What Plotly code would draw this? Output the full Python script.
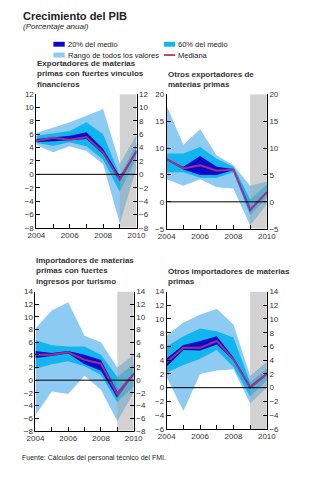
import plotly.graph_objects as go

years = [2004, 2005, 2006, 2007, 2008, 2009, 2010]
forecast_span = [2009, 2010]

titles = [
    "Exportadores de materias<br>primas con fuertes vínculos<br>financieros",
    "Otros exportadores de<br>materias primas",
    "Importadores de materias<br>primas con fuertes<br>ingresos por turismo",
    "Otros importadores de materias<br>primas",
]

# Panel 1
p1_range_hi = [6.2, 7.0, 7.8, 8.8, 9.8, 1.6, 5.9]
p1_range_lo = [4.4, 3.3, 4.2, 3.5, 1.5, -7.4, 1.0]
p1_60_hi = [5.8, 6.1, 6.5, 7.8, 6.0, -0.2, 4.6]
p1_60_lo = [4.7, 4.3, 4.8, 4.2, 2.2, -2.6, 2.4]
p1_20_hi = [5.3, 5.6, 5.8, 6.3, 3.8, -0.3, 3.6]
p1_20_lo = [4.8, 4.9, 5.1, 5.3, 3.0, -1.0, 3.2]
p1_med = [5.0, 5.5, 5.2, 5.6, 3.3, -0.8, 3.5]

# Panel 2
p2_range_hi = [17.8, 10.6, 13.5, 8.6, 6.8, 3.0, 3.8]
p2_range_lo = [4.2, 3.0, 4.2, 2.7, 2.5, -4.4, -0.5]
p2_60_hi = [9.0, 9.0, 10.2, 8.0, 6.5, 0.5, 3.2]
p2_60_lo = [5.5, 5.5, 4.5, 4.5, 5.5, -2.5, 0.8]
p2_20_hi = [7.9, 6.5, 8.5, 6.5, 6.1, -1.2, 1.9]
p2_20_lo = [7.8, 6.0, 5.0, 5.0, 5.9, -1.8, 1.6]
p2_med = [8.0, 6.2, 6.8, 5.8, 6.0, -1.5, 1.8]

# Panel 3
p3_range_hi = [8.2, 11.0, 12.3, 7.0, 6.0, 2.0, 4.0]
p3_range_lo = [-5.5, -1.8, -2.2, 0.7, -1.5, -6.5, -2.0]
p3_60_hi = [6.3, 5.5, 5.3, 5.3, 4.0, 0.5, 2.5]
p3_60_lo = [1.8, 2.5, 3.0, 2.2, 0.8, -3.5, -1.0]
p3_20_hi = [4.6, 4.3, 4.6, 4.0, 3.2, -1.8, 1.2]
p3_20_lo = [3.5, 3.8, 4.2, 2.5, 1.5, -2.8, 0.8]
p3_med = [4.0, 4.0, 4.4, 3.2, 2.6, -2.2, 1.0]

# Panel 4
p4_range_hi = [7.6, 9.5, 10.6, 11.5, 9.2, 1.7, 3.8]
p4_range_lo = [1.5, -3.4, 2.0, 2.5, 2.7, -2.3, 0.0]
p4_60_hi = [6.0, 7.5, 8.6, 8.2, 7.3, 0.8, 2.8]
p4_60_lo = [2.2, 3.3, 4.2, 5.5, 3.0, -1.3, 1.0]
p4_20_hi = [4.3, 6.2, 6.8, 7.5, 4.4, 0.3, 2.2]
p4_20_lo = [3.1, 5.5, 5.4, 6.3, 4.0, -0.2, 1.8]
p4_med = [3.7, 5.8, 5.8, 6.8, 4.1, 0.1, 2.0]

y_ranges = [[-8, 12], [-5, 20], [-8, 14], [-6, 14]]
y_dticks = [2, 5, 2, 2]

panels = [
    (p1_range_hi, p1_range_lo, p1_60_hi, p1_60_lo, p1_20_hi, p1_20_lo, p1_med),
    (p2_range_hi, p2_range_lo, p2_60_hi, p2_60_lo, p2_20_hi, p2_20_lo, p2_med),
    (p3_range_hi, p3_range_lo, p3_60_hi, p3_60_lo, p3_20_hi, p3_20_lo, p3_med),
    (p4_range_hi, p4_range_lo, p4_60_hi, p4_60_lo, p4_20_hi, p4_20_lo, p4_med),
]

W, H = 324, 480
def px_x(a, b):
    return [a / W, b / W]
def px_y(top, bot):
    return [1 - bot / H, 1 - top / H]

x_domains = [px_x(29, 135), px_x(167, 273), px_x(28, 132), px_x(167, 273)]
y_domains = [px_y(92, 228), px_y(92, 229), px_y(293, 435), px_y(293, 433)]
title_bottoms = [89, 89, 289, 289]

C_RANGE = "#8ECBF3"
C_60 = "#13B5EE"
C_20 = "#0A0ACF"
C_MED = "#A0308A"
C_LEG_MED = "#B01030"
FONT = "Liberation Sans, Arial, sans-serif"
TXT = "#333333"

fig = go.Figure()
layout = dict(
    width=W, height=H, margin=dict(l=0, r=0, t=0, b=0),
    paper_bgcolor="white", plot_bgcolor="white", showlegend=False,
    font=dict(family=FONT, size=8, color=TXT),
)
shapes = []
annotations = []

for i, (rhi, rlo, shi, slo, dhi, dlo, med) in enumerate(panels):
    n = i + 1
    xa = "x" if n == 1 else f"x{n}"
    ya = "y" if n == 1 else f"y{2*n-1}"
    ya2 = f"y{2*n}"
    xk = "xaxis" if n == 1 else f"xaxis{n}"
    yk = "yaxis" if n == 1 else f"yaxis{2*n-1}"
    yk2 = f"yaxis{2*n}"

    def band(hi, lo, color):
        fig.add_trace(go.Scatter(
            x=years + years[::-1], y=hi + lo[::-1], fill="toself",
            fillcolor=color, line=dict(width=0), mode="lines",
            xaxis=xa, yaxis=ya, hoverinfo="skip"))

    band(rhi, rlo, C_RANGE)
    band(shi, slo, C_60)
    band(dhi, dlo, C_20)

    # forecast shading
    r0, r1 = y_ranges[i]
    fx = [forecast_span[0], forecast_span[1], forecast_span[1], forecast_span[0]]
    fig.add_trace(go.Scatter(
        x=fx, y=[r0, r0, r1, r1], fill="toself",
        fillcolor="rgba(165,165,165,0.5)", line=dict(width=0), mode="lines",
        xaxis=xa, yaxis=ya, hoverinfo="skip"))

    fig.add_trace(go.Scatter(x=years, y=med, mode="lines",
                             line=dict(color=C_MED, width=2),
                             xaxis=xa, yaxis=ya))
    # dummy for right axis
    fig.add_trace(go.Scatter(x=[years[0]], y=[r0], mode="markers",
                             marker=dict(opacity=0), xaxis=xa, yaxis=ya2,
                             hoverinfo="skip"))

    # zero line on top of the bands
    shapes.append(dict(type="line", xref=f"{xa} domain", yref=ya,
                       x0=0, x1=1, y0=0, y1=0, layer="above",
                       line=dict(color="black", width=1)))

    layout[xk] = dict(
        domain=x_domains[i], anchor=ya, range=[years[0], years[-1]],
        tickvals=[2004, 2006, 2008, 2010], ticks="inside", ticklen=4,
        tickcolor="black", showline=True, linecolor="black", linewidth=1,
        showgrid=False, zeroline=False,
        tickfont=dict(size=8, color=TXT),
        minor=dict(dtick=1, ticks="inside", ticklen=4, tickcolor="black"),
    )
    layout[yk] = dict(
        domain=y_domains[i], anchor=xa, range=y_ranges[i],
        dtick=y_dticks[i], ticks="inside", ticklen=4, tickcolor="black",
        showline=True, linecolor="black", linewidth=1, showgrid=False,
        zeroline=False, tickfont=dict(size=8, color=TXT),
    )
    layout[yk2] = dict(
        domain=y_domains[i], anchor=xa, overlaying=ya, side="right",
        range=y_ranges[i], dtick=y_dticks[i], ticks="inside", ticklen=4,
        tickcolor="black", showline=True, linecolor="black", linewidth=1,
        showgrid=False, zeroline=False, tickfont=dict(size=8, color=TXT),
    )
    annotations.append(dict(
        text="<b>" + titles[i].replace("<br>", "</b><br><b>") + "</b>",
        xref="paper", yref="paper",
        x=x_domains[i][0], y=1 - title_bottoms[i] / H,
        xanchor="left", yanchor="bottom", align="left", showarrow=False,
        font=dict(size=8, color=TXT), xshift=-1))

# title / subtitle
annotations.append(dict(text="<b>Crecimiento del PIB</b>", xref="paper", yref="paper",
                        x=13 / W, y=1 - 12 / H, xanchor="left", yanchor="middle",
                        showarrow=False, font=dict(size=11, color="#222")))
annotations.append(dict(text="<i>(Porcentaje anual)</i>", xref="paper", yref="paper",
                        x=13 / W, y=1 - 23 / H, xanchor="left", yanchor="middle",
                        showarrow=False, font=dict(size=8, color="#222")))
annotations.append(dict(text="Fuente: Cálculos del personal técnico del FMI.",
                        xref="paper", yref="paper", x=12 / W, y=1 - 463 / H,
                        xanchor="left", yanchor="middle", showarrow=False,
                        font=dict(size=7, color="#222")))

# legend
legend_items = [
    ("20% del medio", C_20, "box", 47, 41),
    ("60% del medio", C_60, "box", 164, 41),
    ("Rango de todos los valores", C_RANGE, "box", 47, 52),
    ("Mediana", C_LEG_MED, "line", 164, 52),
]
for label, color, kind, lx, ly in legend_items:
    if kind == "box":
        shapes.append(dict(type="rect", xref="paper", yref="paper",
                           x0=lx / W, x1=(lx + 12) / W,
                           y0=1 - (ly + 2.5) / H, y1=1 - (ly - 2.5) / H,
                           fillcolor=color, line=dict(width=0)))
    else:
        shapes.append(dict(type="line", xref="paper", yref="paper",
                           x0=lx / W, x1=(lx + 12) / W,
                           y0=1 - ly / H, y1=1 - ly / H,
                           line=dict(color=color, width=1.5)))
    annotations.append(dict(text=label, xref="paper", yref="paper",
                            x=(lx + 13) / W, y=1 - ly / H, xanchor="left",
                            yanchor="middle", showarrow=False,
                            font=dict(size=7.5, color="#222")))

layout["shapes"] = shapes
layout["annotations"] = annotations
fig.update_layout(**layout)
fig.write_html("out.html")
